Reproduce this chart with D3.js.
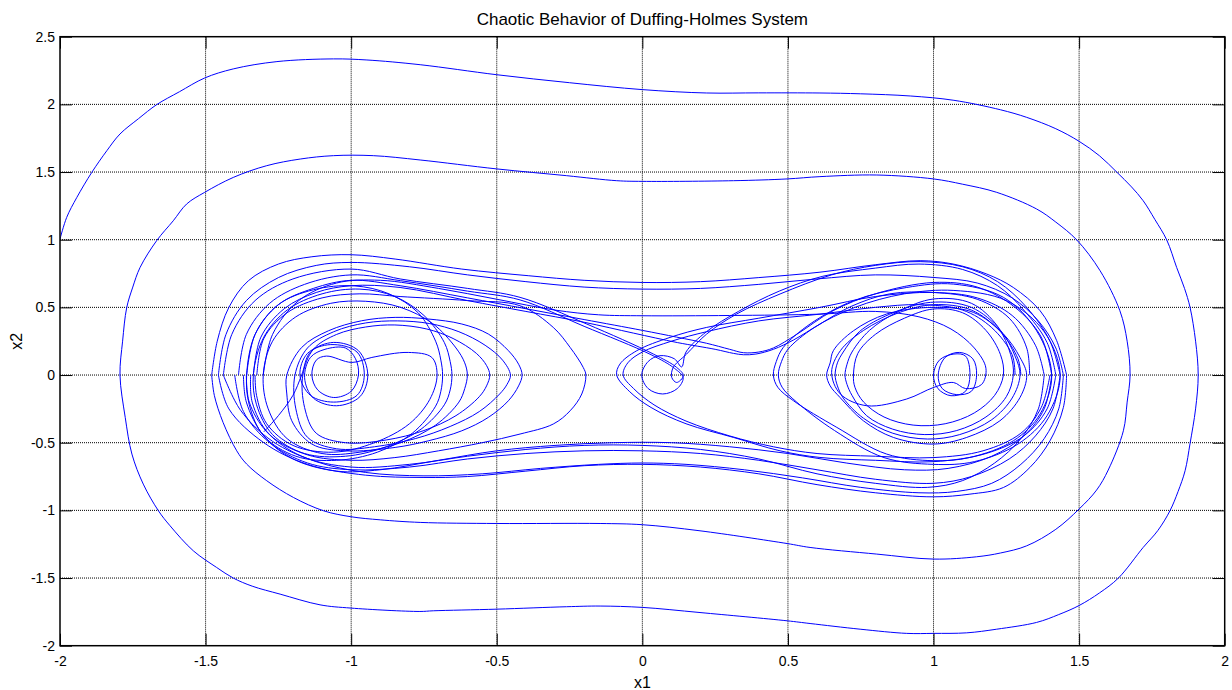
<!DOCTYPE html>
<html>
<head>
<meta charset="utf-8">
<script src="https://cdn.jsdelivr.net/npm/d3@7"></script>
<style>
body{margin:0;background:#fff;}
svg{display:block;font-family:"Liberation Sans",Arial,Helvetica,sans-serif;}
</style>
</head>
<body>
<svg width="1232" height="690"></svg>
<script>
// tick values
var xTicks = [-2,-1.5,-1,-0.5,0,0.5,1,1.5,2];
var yTicks = [-2,-1.5,-1,-0.5,0,0.5,1,1.5,2,2.5];

// traced trajectory pieces [x1, x2]
// first two big revolutions, then into the left well
var outerOrbit = [[-2,1.005],[-1.977,1.165],[-1.942,1.313],[-1.891,1.497],[-1.839,1.658],[-1.794,1.781],[-1.73,1.895],[-1.668,1.998],[-1.59,2.093],[-1.503,2.195],[-1.405,2.262],[-1.255,2.316],[-1.061,2.336],[-0.946,2.328],[-0.763,2.293],[-0.5,2.219],[-0.25,2.16],[0,2.109],[0.221,2.084],[0.4,2.085],[0.61,2.084],[0.75,2.078],[0.92,2.062],[1.07,2.03],[1.23,1.96],[1.32,1.904],[1.42,1.82],[1.5,1.727],[1.57,1.62],[1.629,1.5],[1.68,1.39],[1.72,1.288],[1.76,1.15],[1.801,0.998],[1.835,0.795],[1.862,0.64],[1.881,0.5],[1.9,0.25],[1.909,0],[1.9,-0.25],[1.881,-0.506],[1.864,-0.707],[1.84,-0.86],[1.812,-1.003],[1.77,-1.15],[1.72,-1.274],[1.635,-1.5],[1.57,-1.61],[1.5,-1.703],[1.43,-1.77],[1.354,-1.828],[1.217,-1.878],[1.114,-1.905],[1.0,-1.909],[0.908,-1.909],[0.748,-1.878],[0.576,-1.836],[0.497,-1.816],[0.198,-1.755],[0,-1.717],[-0.145,-1.707],[-0.26,-1.712],[-0.5,-1.73],[-0.718,-1.742],[-0.764,-1.747],[-1.001,-1.722],[-1.107,-1.698],[-1.244,-1.619],[-1.34,-1.56],[-1.405,-1.5],[-1.462,-1.422],[-1.542,-1.299],[-1.622,-1.114],[-1.662,-1.003],[-1.714,-0.806],[-1.753,-0.584],[-1.776,-0.313],[-1.794,0],[-1.785,0.25],[-1.771,0.497],[-1.75,0.65],[-1.725,0.795],[-1.668,0.993],[-1.611,1.14],[-1.565,1.264],[-1.503,1.35],[-1.405,1.46],[-1.29,1.547],[-1.175,1.596],[-1.061,1.621],[-0.924,1.621],[-0.763,1.589],[-0.5,1.523],[-0.26,1.473],[-0.088,1.436],[0,1.431],[0.313,1.436],[0.497,1.449],[0.61,1.466],[0.805,1.478],[1.0,1.449],[1.1,1.41],[1.217,1.35],[1.354,1.227],[1.42,1.13],[1.492,0.998],[1.572,0.771],[1.64,0.475],[1.665,0.25],[1.675,0],[1.665,-0.2],[1.652,-0.412],[1.6,-0.702],[1.56,-0.85],[1.5,-0.99],[1.42,-1.14],[1.32,-1.262],[1.23,-1.315],[1.148,-1.343],[1.0,-1.36],[0.805,-1.323],[0.576,-1.274],[0.497,-1.245],[0.198,-1.151],[0,-1.106],[-0.145,-1.097],[-0.5,-1.097],[-0.763,-1.089],[-0.9,-1.07],[-1.001,-1.047],[-1.095,-1.003],[-1.198,-0.905],[-1.29,-0.781],[-1.359,-0.658],[-1.393,-0.56],[-1.44,-0.35],[-1.47,-0.15],[-1.479,0]];

// crossings over the top (left well -> right well)
var topCross1 = [[-1.479,0],[-1.46,0.25],[-1.42,0.5],[-1.353,0.697],[-1.25,0.82],[-1.135,0.874],[-1.0,0.889],[-0.849,0.857],[-0.62,0.783],[-0.392,0.734],[-0.2,0.7],[0,0.684],[0.2,0.69],[0.4,0.72],[0.61,0.76],[0.8,0.815],[0.954,0.845],[1.068,0.82],[1.183,0.746],[1.274,0.647],[1.366,0.475],[1.423,0.254],[1.457,0]];
var topCross2 = [[-1.456,0],[-1.43,0.3],[-1.36,0.55],[-1.25,0.72],[-1.12,0.81],[-1.0,0.832],[-0.8,0.8],[-0.6,0.74],[-0.4,0.69],[-0.2,0.65],[0,0.635],[0.2,0.64],[0.4,0.67],[0.6,0.71],[0.8,0.74],[1.0,0.721],[1.15,0.68],[1.27,0.57],[1.36,0.4],[1.42,0.2],[1.446,0]];
var topCross3 = [[-1.302,0],[-1.27,0.3],[-1.18,0.55],[-1.05,0.68],[-0.9,0.7],[-0.7,0.64],[-0.5,0.56],[-0.3,0.48],[-0.15,0.445],[0,0.438],[0.3,0.44],[0.61,0.45],[0.8,0.47],[0.95,0.43],[1.06,0.34],[1.14,0.2],[1.18,0.05],[1.165,-0.07],[1.11,-0.1],[1.068,-0.055],[1.0,-0.092],[0.908,-0.177],[0.771,-0.227],[0.68,-0.14],[0.65,0.02],[0.68,0.18],[0.76,0.33],[0.88,0.46],[1.0,0.52],[1.13,0.48],[1.23,0.32],[1.29,0.12],[1.3,0]];
var curlA = [[-1.439,0],[-1.41,0.3],[-1.33,0.55],[-1.2,0.71],[-1.0,0.783],[-0.832,0.71],[-0.6,0.64],[-0.42,0.574],[-0.191,0.377],[0.038,0.155],[0.118,0.056],[0.141,-0.005],[0.118,-0.055],[0.101,-0.018],[0.106,0.056],[0.152,0.155],[0.221,0.303],[0.324,0.451],[0.473,0.599],[0.65,0.74],[0.8,0.81],[0.954,0.838],[1.1,0.8],[1.22,0.69],[1.32,0.5],[1.4,0.25],[1.435,0]];
var curlB = [[-1.387,0],[-1.36,0.3],[-1.28,0.53],[-1.16,0.67],[-1.0,0.74],[-0.83,0.697],[-0.6,0.62],[-0.42,0.555],[-0.2,0.36],[0.03,0.15],[0.11,0.05],[0.14,-0.02],[0.12,-0.1],[0.07,-0.14],[0.02,-0.1],[-0.002,0],[0.02,0.1],[0.06,0.143],[0.11,0.12],[0.135,0.06],[0.15,0.17],[0.22,0.32],[0.33,0.47],[0.47,0.62],[0.62,0.73],[0.8,0.79],[0.95,0.82],[1.1,0.78],[1.22,0.66],[1.31,0.48],[1.39,0.24],[1.42,0]];
var dipA = [[-1.359,0],[-1.33,0.3],[-1.25,0.52],[-1.13,0.64],[-1.0,0.7],[-0.832,0.66],[-0.6,0.57],[-0.4,0.49],[-0.2,0.41],[0,0.33],[0.118,0.28],[0.22,0.235],[0.3,0.19],[0.347,0.165],[0.4,0.17],[0.45,0.2],[0.53,0.3],[0.655,0.475],[0.8,0.6],[1.0,0.684],[1.15,0.65],[1.28,0.5],[1.37,0.28],[1.406,0]];
var dipB = [[-1.336,0],[-1.31,0.28],[-1.23,0.49],[-1.12,0.61],[-1.0,0.66],[-0.832,0.647],[-0.6,0.55],[-0.4,0.47],[-0.2,0.39],[-0.031,0.31],[0.12,0.24],[0.25,0.19],[0.313,0.16],[0.347,0.15],[0.39,0.155],[0.45,0.19],[0.52,0.26],[0.61,0.377],[0.72,0.51],[0.85,0.6],[1.0,0.61],[1.15,0.56],[1.26,0.42],[1.32,0.2],[1.33,0]];
// turned back near the saddle
var turnLeft = [[-1.324,0],[-1.3,0.27],[-1.22,0.46],[-1.1,0.57],[-0.97,0.6],[-0.832,0.58],[-0.6,0.55],[-0.42,0.512],[-0.306,0.352],[-0.248,0.204],[-0.203,0.056],[-0.194,0],[-0.208,-0.14],[-0.248,-0.264],[-0.306,-0.362],[-0.42,-0.436],[-0.55,-0.5],[-0.7,-0.56],[-0.85,-0.61],[-1.0,-0.63],[-1.15,-0.59],[-1.28,-0.44],[-1.34,-0.2],[-1.345,0]];
var turnRightA = [[1.42,0],[1.39,-0.25],[1.31,-0.45],[1.18,-0.58],[1.0,-0.64],[0.8,-0.63],[0.61,-0.609],[0.473,-0.56],[0.313,-0.461],[0.15,-0.36],[0.03,-0.24],[-0.045,-0.12],[-0.088,0],[-0.077,0.081],[-0.019,0.18],[0.095,0.278],[0.221,0.352],[0.4,0.42],[0.61,0.5],[0.8,0.58],[1.0,0.61],[1.15,0.57],[1.27,0.44],[1.35,0.22],[1.38,0]];
var turnRightB = [[1.4,0],[1.37,-0.24],[1.3,-0.43],[1.17,-0.56],[1.0,-0.61],[0.8,-0.6],[0.6,-0.58],[0.45,-0.53],[0.3,-0.45],[0.15,-0.34],[0.04,-0.22],[-0.03,-0.1],[-0.066,0],[-0.05,0.09],[0.0,0.17],[0.1,0.25],[0.22,0.32],[0.4,0.4],[0.61,0.45],[0.8,0.5],[0.95,0.52],[1.1,0.48],[1.2,0.35],[1.27,0.15],[1.28,0]];

// crossings under the bottom (right well -> left well)
var botCross1 = [[1.457,0],[1.446,-0.239],[1.4,-0.486],[1.331,-0.683],[1.24,-0.831],[1.125,-0.88],[1.0,-0.9],[0.8,-0.87],[0.6,-0.81],[0.4,-0.73],[0.2,-0.68],[0,-0.66],[-0.2,-0.67],[-0.4,-0.71],[-0.6,-0.75],[-0.75,-0.757],[-0.95,-0.74],[-1.15,-0.66],[-1.3,-0.5],[-1.42,-0.25],[-1.456,0]];
var botCross2 = [[1.446,0],[1.43,-0.25],[1.38,-0.47],[1.3,-0.66],[1.2,-0.8],[1.08,-0.86],[0.95,-0.87],[0.75,-0.83],[0.55,-0.76],[0.35,-0.7],[0.15,-0.66],[0,-0.65],[-0.15,-0.66],[-0.35,-0.69],[-0.55,-0.73],[-0.75,-0.745],[-0.95,-0.72],[-1.12,-0.64],[-1.27,-0.49],[-1.38,-0.26],[-1.439,0]];
var botCross3 = [[1.435,0],[1.41,-0.25],[1.35,-0.45],[1.26,-0.62],[1.13,-0.75],[1.0,-0.8],[0.8,-0.77],[0.6,-0.7],[0.4,-0.63],[0.2,-0.58],[0,-0.56],[-0.2,-0.56],[-0.4,-0.58],[-0.6,-0.62],[-0.8,-0.68],[-1.0,-0.7],[-1.15,-0.65],[-1.28,-0.5],[-1.37,-0.27],[-1.4,0]];
var botCross4 = [[1.406,0],[1.38,-0.25],[1.31,-0.45],[1.2,-0.6],[1.05,-0.69],[0.9,-0.7],[0.7,-0.65],[0.5,-0.58],[0.3,-0.53],[0.1,-0.5],[-0.1,-0.5],[-0.3,-0.52],[-0.5,-0.56],[-0.7,-0.63],[-0.9,-0.7],[-1.05,-0.71],[-1.2,-0.62],[-1.3,-0.45],[-1.36,-0.2],[-1.37,0]];
var botCross5 = [[1.38,0],[1.36,-0.25],[1.3,-0.47],[1.21,-0.65],[1.1,-0.78],[0.98,-0.83],[0.8,-0.8],[0.6,-0.73],[0.4,-0.62],[0.2,-0.55],[0,-0.52],[-0.2,-0.52],[-0.4,-0.55],[-0.6,-0.6],[-0.8,-0.66],[-1.0,-0.68],[-1.17,-0.6],[-1.29,-0.42],[-1.35,-0.2],[-1.36,0]];
// left well: small loops with the stray chord
var leftInner = [[-1.3,-0.42],[-1.25,-0.3],[-1.2,-0.15],[-1.17,0],[-1.14,0.17],[-1.06,0.241],[-0.975,0.18],[-0.943,0],[-0.97,-0.16],[-1.05,-0.227],[-1.13,-0.17],[-1.16,-0.02],[-1.14,0.13],[-1.09,0.19],[-1.02,0.2],[-0.985,0.12],[-0.975,0],[-1.0,-0.12],[-1.06,-0.166],[-1.115,-0.11],[-1.135,0],[-1.12,0.11],[-1.085,0.14],[-0.998,0.093],[-0.929,0.13],[-0.804,0.167],[-0.723,0.13],[-0.705,0],[-0.73,-0.18],[-0.8,-0.36],[-0.92,-0.5],[-1.06,-0.57],[-1.2,-0.52],[-1.29,-0.36],[-1.325,-0.15],[-1.33,0]];

// closed revolutions inside each well
var leftLoop1 = [[-1.221,0],[-1.17,0.204],[-1.078,0.327],[-0.964,0.401],[-0.849,0.426],[-0.735,0.414],[-0.62,0.377],[-0.529,0.303],[-0.46,0.18],[-0.425,0.08],[-0.413,0],[-0.425,-0.08],[-0.46,-0.19],[-0.529,-0.313],[-0.62,-0.412],[-0.735,-0.486],[-0.849,-0.535],[-1.021,-0.56],[-1.135,-0.51],[-1.204,-0.338],[-1.221,-0.14]];
var leftLoop2 = [[-1.193,0],[-1.15,0.2],[-1.06,0.32],[-0.95,0.385],[-0.84,0.4],[-0.73,0.38],[-0.63,0.32],[-0.54,0.22],[-0.48,0.11],[-0.453,0],[-0.465,-0.07],[-0.49,-0.14],[-0.56,-0.27],[-0.66,-0.38],[-0.78,-0.47],[-0.92,-0.53],[-1.05,-0.545],[-1.15,-0.46],[-1.19,-0.25]];
var leftLoop3 = [[-1.166,0],[-1.13,0.19],[-1.05,0.3],[-0.95,0.355],[-0.85,0.37],[-0.74,0.34],[-0.65,0.27],[-0.57,0.16],[-0.535,0.07],[-0.524,0],[-0.535,-0.08],[-0.56,-0.16],[-0.64,-0.3],[-0.75,-0.41],[-0.88,-0.48],[-1.02,-0.5],[-1.12,-0.43],[-1.16,-0.24]];
var leftLoop4 = [[-1.302,0],[-1.27,0.25],[-1.19,0.43],[-1.07,0.53],[-0.95,0.545],[-0.83,0.5],[-0.72,0.38],[-0.64,0.2],[-0.61,0.09],[-0.601,0],[-0.61,-0.1],[-0.63,-0.2],[-0.71,-0.37],[-0.83,-0.5],[-0.97,-0.57],[-1.1,-0.58],[-1.22,-0.47],[-1.285,-0.25]];
var leftLoop5 = [[-1.336,0],[-1.3,0.28],[-1.22,0.48],[-1.1,0.6],[-0.97,0.635],[-0.85,0.58],[-0.75,0.44],[-0.68,0.24],[-0.66,0.1],[-0.654,0],[-0.66,-0.11],[-0.68,-0.22],[-0.76,-0.4],[-0.88,-0.53],[-1.02,-0.6],[-1.16,-0.58],[-1.27,-0.44],[-1.325,-0.22]];
var leftLoop6 = [[-1.359,0],[-1.33,0.3],[-1.25,0.52],[-1.13,0.63],[-0.99,0.659],[-0.87,0.6],[-0.77,0.46],[-0.71,0.25],[-0.692,0.11],[-0.686,0],[-0.692,-0.12],[-0.71,-0.23],[-0.79,-0.43],[-0.91,-0.57],[-1.05,-0.63],[-1.19,-0.6],[-1.3,-0.45],[-1.35,-0.22]];
var leftTiny = [[-1.176,0],[-1.15,0.16],[-1.07,0.225],[-0.98,0.17],[-0.955,0],[-0.98,-0.15],[-1.06,-0.2],[-1.14,-0.15]];
var rightLoop1 = [[0.633,0],[0.645,0.09],[0.656,0.18],[0.725,0.327],[0.839,0.451],[1.0,0.5],[1.137,0.463],[1.24,0.303],[1.297,0.13],[1.32,0],[1.297,-0.166],[1.228,-0.338],[1.114,-0.461],[1.0,-0.51],[0.862,-0.461],[0.759,-0.338],[0.679,-0.166],[0.645,-0.08]];
var rightLoop2 = [[0.662,0],[0.67,0.09],[0.69,0.17],[0.745,0.32],[0.85,0.45],[0.99,0.537],[1.13,0.5],[1.23,0.33],[1.28,0.14],[1.297,0],[1.27,-0.17],[1.2,-0.33],[1.09,-0.44],[0.98,-0.473],[0.86,-0.43],[0.76,-0.32],[0.69,-0.17],[0.67,-0.08]];
var rightLoop3 = [[0.696,0],[0.703,0.08],[0.72,0.17],[0.78,0.33],[0.88,0.47],[1.0,0.562],[1.13,0.53],[1.22,0.36],[1.265,0.15],[1.274,0],[1.25,-0.16],[1.18,-0.31],[1.08,-0.41],[0.97,-0.44],[0.86,-0.4],[0.77,-0.3],[0.72,-0.15],[0.703,-0.07]];
var rightLoop4 = [[0.725,0],[0.74,0.16],[0.8,0.3],[0.9,0.42],[1.0,0.488],[1.1,0.46],[1.18,0.33],[1.23,0.15],[1.24,0],[1.21,-0.15],[1.14,-0.28],[1.04,-0.36],[0.93,-0.37],[0.83,-0.31],[0.76,-0.2],[0.73,-0.09]];
var rightLoop5 = [[0.45,0],[0.46,0.1],[0.484,0.204],[0.576,0.377],[0.725,0.549],[0.908,0.647],[1.068,0.672],[1.24,0.574],[1.354,0.327],[1.406,0],[1.366,-0.288],[1.274,-0.486],[1.125,-0.609],[1.0,-0.633],[0.839,-0.584],[0.668,-0.387],[0.519,-0.19],[0.465,-0.09]];
var rightLoop6 = [[0.467,0],[0.478,0.1],[0.5,0.19],[0.59,0.35],[0.73,0.5],[0.9,0.6],[1.07,0.625],[1.25,0.55],[1.38,0.32],[1.435,0],[1.39,-0.3],[1.29,-0.51],[1.14,-0.64],[1.0,-0.66],[0.83,-0.61],[0.66,-0.41],[0.53,-0.2],[0.48,-0.09]];
var rightTiny1 = [[1.0,0],[1.02,0.11],[1.07,0.155],[1.11,0.14],[1.125,0],[1.11,-0.12],[1.06,-0.153],[1.015,-0.1]];
var rightTiny2 = [[1.016,0],[1.04,0.13],[1.09,0.167],[1.135,0.12],[1.148,0],[1.13,-0.12],[1.08,-0.145],[1.03,-0.1]];

var openPieces = [outerOrbit, topCross1, topCross2, topCross3, curlA, curlB, dipA, dipB, turnLeft, turnRightA, turnRightB, botCross1, botCross2, botCross3, botCross4, botCross5, leftInner];
var closedPieces = [leftLoop1, leftLoop2, leftLoop3, leftLoop4, leftLoop5, leftLoop6, leftTiny, rightLoop1, rightLoop2, rightLoop3, rightLoop4, rightLoop5, rightLoop6, rightTiny1, rightTiny2];

var margin = {top: 36.7, right: 7.3, bottom: 44.3, left: 60};
var width = 1232 - margin.left - margin.right;
var height = 690 - margin.top - margin.bottom;

var svg = d3.select("svg");
var g = svg.append("g").attr("transform", "translate(" + margin.left + "," + margin.top + ")");

var x = d3.scaleLinear().domain([-2, 2]).range([0, width]);
var y = d3.scaleLinear().domain([-2, 2.5]).range([height, 0]);

svg.append("defs").append("clipPath").attr("id", "plotclip")
  .append("rect").attr("width", width).attr("height", height);

// dotted grid
g.append("g").selectAll("line").data(xTicks.slice(1, -1)).enter().append("line")
  .attr("x1", function(d){ return x(d); }).attr("x2", function(d){ return x(d); })
  .attr("y1", 0).attr("y2", height)
  .attr("stroke", "#000").attr("stroke-width", 1).attr("stroke-dasharray", "1,1");
g.append("g").selectAll("line").data(yTicks.slice(1, -1)).enter().append("line")
  .attr("y1", function(d){ return y(d); }).attr("y2", function(d){ return y(d); })
  .attr("x1", 0).attr("x2", width)
  .attr("stroke", "#000").attr("stroke-width", 1).attr("stroke-dasharray", "1,1");

// trajectory
var line = d3.line().x(function(d){ return x(d[0]); }).y(function(d){ return y(d[1]); })
  .curve(d3.curveCatmullRom.alpha(0.5));
var loopLine = d3.line().x(function(d){ return x(d[0]); }).y(function(d){ return y(d[1]); })
  .curve(d3.curveCatmullRomClosed.alpha(0.5));
var traj = g.append("g").attr("clip-path", "url(#plotclip)");
traj.selectAll(".open").data(openPieces).enter().append("path")
  .attr("class", "open").attr("d", line)
  .attr("fill", "none").attr("stroke", "#0000ff").attr("stroke-width", 1);
traj.selectAll(".closed").data(closedPieces).enter().append("path")
  .attr("class", "closed").attr("d", loopLine)
  .attr("fill", "none").attr("stroke", "#0000ff").attr("stroke-width", 1);

// axes, ticks pointing inward on all sides
var fmt = function(d){ return String(d); };
var xb = g.append("g").attr("transform", "translate(0," + height + ")")
  .call(d3.axisBottom(x).tickValues(xTicks).tickFormat(fmt).tickSizeInner(-12).tickSizeOuter(0).tickPadding(10));
var xt = g.append("g")
  .call(d3.axisTop(x).tickValues(xTicks).tickFormat("").tickSizeInner(-12).tickSizeOuter(0));
var yl = g.append("g")
  .call(d3.axisLeft(y).tickValues(yTicks).tickFormat(fmt).tickSizeInner(-12).tickSizeOuter(0).tickPadding(5));
var yr = g.append("g").attr("transform", "translate(" + width + ",0)")
  .call(d3.axisRight(y).tickValues(yTicks).tickFormat("").tickSizeInner(-12).tickSizeOuter(0));
[xb, xt, yl, yr].forEach(function(a){
  a.select(".domain").remove();
  a.selectAll("line").attr("stroke", "#000");
  a.selectAll("text").attr("font-size", 14).attr("fill", "#000").attr("font-family", null);
});

g.append("rect").attr("width", width).attr("height", height)
  .attr("fill", "none").attr("stroke", "#000").attr("stroke-width", 1.5);

// labels
svg.append("text").attr("x", margin.left + width / 2).attr("y", 25)
  .attr("text-anchor", "middle").attr("font-size", 17).text("Chaotic Behavior of Duffing-Holmes System");
svg.append("text").attr("x", margin.left + width / 2).attr("y", 688)
  .attr("text-anchor", "middle").attr("font-size", 16).text("x1");
svg.append("text").attr("transform", "translate(22," + (margin.top + height / 2) + ") rotate(-90)")
  .attr("text-anchor", "middle").attr("font-size", 16).text("x2");
</script>
</body>
</html>
